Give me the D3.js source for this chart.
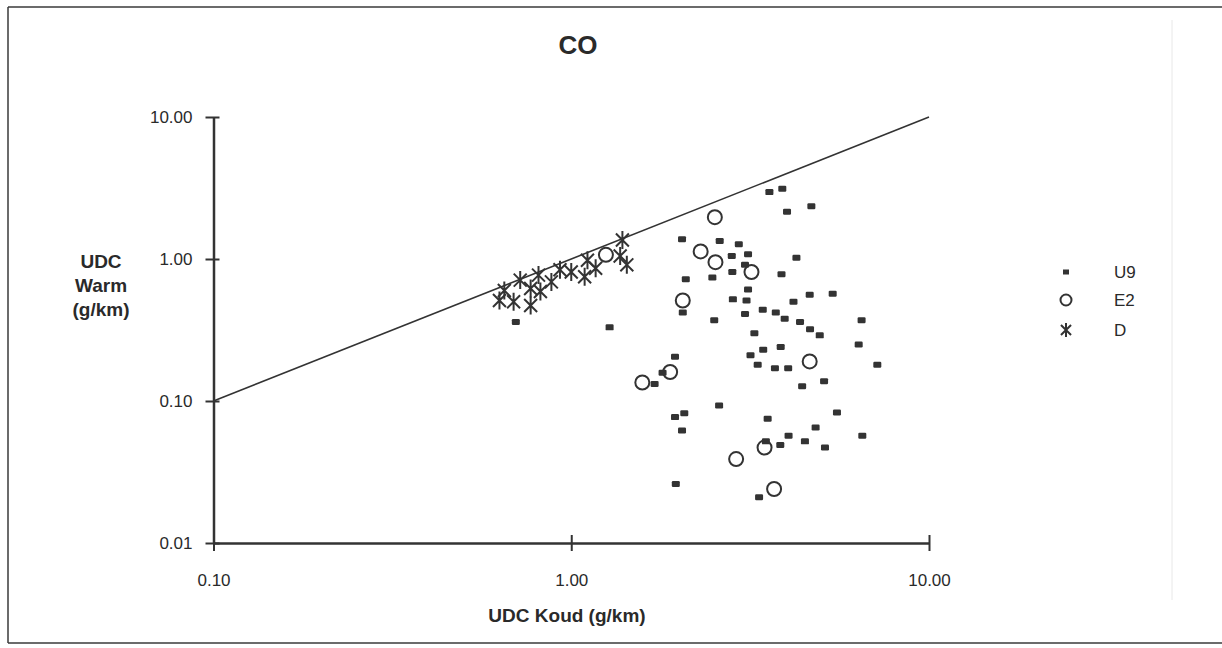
<!DOCTYPE html>
<html>
<head>
<meta charset="utf-8">
<script src="https://cdn.jsdelivr.net/npm/d3@7/dist/d3.min.js"></script>
<style>
  html, body { margin: 0; padding: 0; background: #ffffff; }
  svg { display: block; font-family: "Liberation Sans", Arial, Helvetica, sans-serif; }
</style>
</head>
<body>
<svg id="chart" width="1222" height="648"></svg>
<script>
// CO emissions: cold-start (Koud) vs warm (Warm) UDC values, g/km
const u9 = [
  [0.70, 0.36], [1.28, 0.33], [3.58, 2.96], [3.89, 3.13], [4.69, 2.35], [4.01, 2.15],
  [2.04, 1.38], [2.60, 1.34], [2.94, 1.27], [2.81, 1.05], [3.12, 1.08], [4.26, 1.02],
  [3.06, 0.91], [2.09, 0.72], [2.48, 0.74], [2.82, 0.81], [3.87, 0.78], [3.12, 0.61],
  [4.64, 0.56], [5.38, 0.57], [2.83, 0.52], [3.09, 0.51], [4.18, 0.50], [2.05, 0.42],
  [2.51, 0.37], [3.06, 0.41], [3.43, 0.44], [3.73, 0.42], [3.95, 0.38], [4.36, 0.36],
  [4.65, 0.32], [4.95, 0.29], [6.48, 0.37], [6.36, 0.25], [7.17, 0.18], [3.25, 0.30],
  [1.95, 0.205], [3.44, 0.23], [3.85, 0.24], [3.17, 0.21], [3.32, 0.18], [3.71, 0.17],
  [4.04, 0.17], [4.42, 0.127], [5.09, 0.138], [1.80, 0.158], [1.71, 0.132], [2.59, 0.093],
  [1.95, 0.077], [2.07, 0.082], [2.04, 0.062], [3.54, 0.075], [5.53, 0.083], [4.82, 0.065],
  [4.05, 0.057], [4.50, 0.052], [3.84, 0.049], [5.12, 0.047], [6.51, 0.057], [3.50, 0.052],
  [1.96, 0.026], [3.35, 0.021]
];
const e2 = [
  [2.52, 1.97], [2.30, 1.13], [2.53, 0.95], [3.19, 0.81], [2.05, 0.51], [4.64, 0.19],
  [1.89, 0.16], [1.58, 0.135], [2.89, 0.039], [3.47, 0.047], [3.69, 0.024], [1.25, 1.07]
];
const dSeries = [
  [0.63, 0.51], [0.65, 0.60], [0.69, 0.50], [0.72, 0.71], [0.77, 0.47], [0.77, 0.62],
  [0.81, 0.77], [0.82, 0.59], [0.88, 0.69], [0.93, 0.84], [1.00, 0.81], [1.09, 0.75],
  [1.17, 0.86], [1.11, 0.98], [1.39, 1.36], [1.37, 1.05], [1.43, 0.91]
];
const xTicks = [0.1, 1, 10];
const yTicks = [0.01, 0.1, 1, 10];
const refLine = [[0.1, 0.1], [10, 10]];
const legendNames = ["U9", "E2", "D"];

const ink = "#333333";
const svg = d3.select("#chart");

// page frame
svg.append("rect").attr("x", 0).attr("y", 0).attr("width", 1222).attr("height", 648).attr("fill", "#ffffff");
const frame = svg.append("g").attr("stroke", "#3a3a3a").attr("stroke-width", 1.5);
frame.append("line").attr("x1", 8).attr("y1", 7).attr("x2", 1222).attr("y2", 7);
frame.append("line").attr("x1", 8).attr("y1", 7).attr("x2", 8).attr("y2", 643);
frame.append("line").attr("x1", 8).attr("y1", 643).attr("x2", 1222).attr("y2", 643);
svg.append("line").attr("x1", 1172).attr("y1", 20).attr("x2", 1172).attr("y2", 600)
  .attr("stroke", "#e8e8e8").attr("stroke-width", 1);

const x = d3.scaleLog().domain([0.1, 10]).range([213.5, 929]);
const y = d3.scaleLog().domain([0.01, 10]).range([543, 117]);
const fmt = d3.format(".2f");

// axes
const xAxis = svg.append("g").attr("transform", "translate(0,543)")
  .call(d3.axisBottom(x).tickValues(xTicks).tickFormat(fmt).tickSizeInner(8).tickSizeOuter(0).tickPadding(23));
const yAxis = svg.append("g").attr("transform", "translate(213.5,0)")
  .call(d3.axisLeft(y).tickValues(yTicks).tickFormat(fmt).tickSizeInner(8).tickSizeOuter(0).tickPadding(13));
[xAxis, yAxis].forEach(g => {
  g.select(".domain").attr("stroke", ink).attr("stroke-width", 2.5);
  g.selectAll(".tick line").attr("stroke", ink).attr("stroke-width", 2);
  g.selectAll(".tick text").attr("fill", "#2a2a2a").attr("font-size", 17)
    .attr("font-family", "'Liberation Sans', Arial, sans-serif");
});
// ticks straddle the axis line
xAxis.selectAll(".tick line").attr("y1", -8).attr("y2", 8);
yAxis.selectAll(".tick line").attr("x1", -8).attr("x2", 6);
yAxis.selectAll(".tick text").attr("dy", "0.35em");

// y = x reference line
svg.append("path")
  .datum(refLine)
  .attr("d", d3.line().x(d => x(d[0])).y(d => y(d[1])))
  .attr("fill", "none").attr("stroke", ink).attr("stroke-width", 1.6);

// marker shapes
function drawSquare(sel) {
  sel.append("rect").attr("x", -4).attr("y", -3).attr("width", 8).attr("height", 6)
    .attr("rx", 1.2).attr("fill", ink);
}
function drawCircle(sel, r) {
  sel.append("circle").attr("r", r).attr("fill", "none").attr("stroke", ink).attr("stroke-width", 2);
}
function drawStar(sel, s) {
  const a = s * 0.72, b = s * 0.72;
  const p = `M0,${-s}L0,${s}M${-a},${-b}L${a},${b}M${-a},${b}L${a},${-b}`;
  sel.append("path").attr("d", p).attr("stroke", ink).attr("stroke-width", 2).attr("fill", "none");
}

const pts = svg.append("g");
pts.selectAll(".u9").data(u9).join("g").attr("class", "u9")
  .attr("transform", d => `translate(${x(d[0])},${y(d[1])})`)
  .each(function () { drawSquare(d3.select(this)); });
pts.selectAll(".e2").data(e2).join("g").attr("class", "e2")
  .attr("transform", d => `translate(${x(d[0])},${y(d[1])})`)
  .each(function () { drawCircle(d3.select(this), 7); });
pts.selectAll(".dd").data(dSeries).join("g").attr("class", "dd")
  .attr("transform", d => `translate(${x(d[0])},${y(d[1])})`)
  .each(function () { drawStar(d3.select(this), 9); });

// legend
const legY = [272, 300, 330];
const leg = svg.append("g");
legendNames.forEach((name, i) => {
  const g = leg.append("g").attr("transform", `translate(1066,${legY[i]})`);
  if (i === 0) g.append("rect").attr("x", -3).attr("y", -2.5).attr("width", 6).attr("height", 5).attr("fill", ink);
  if (i === 1) drawCircle(g, 5.5);
  if (i === 2) drawStar(g, 7);
  leg.append("text").attr("x", 1114).attr("y", legY[i]).attr("dy", "0.35em")
    .attr("font-size", 17).attr("fill", "#2a2a2a").text(name);
});

// titles
svg.append("text").attr("x", 578).attr("y", 45).attr("dy", "0.35em").attr("text-anchor", "middle")
  .attr("font-size", 26).attr("font-weight", "bold").attr("fill", "#2a2a2a").text("CO");
svg.append("text").attr("x", 567).attr("y", 615).attr("dy", "0.35em").attr("text-anchor", "middle")
  .attr("font-size", 19).attr("font-weight", "bold").attr("fill", "#2a2a2a").text("UDC Koud (g/km)");
const yt = svg.append("text").attr("text-anchor", "middle").attr("font-size", 19)
  .attr("font-weight", "bold").attr("fill", "#2a2a2a");
["UDC", "Warm", "(g/km)"].forEach((t, i) => {
  yt.append("tspan").attr("x", 101).attr("y", 261 + i * 24).attr("dy", "0.35em").text(t);
});
</script>
</body>
</html>
